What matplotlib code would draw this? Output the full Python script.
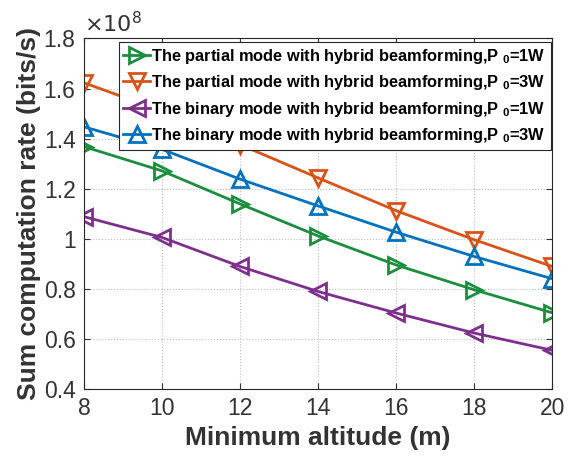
import matplotlib
matplotlib.use("Agg")
import matplotlib.pyplot as plt
from matplotlib.ticker import FuncFormatter, MultipleLocator

plt.rcParams['font.family'] = ['Liberation Sans', 'DejaVu Sans']
plt.rcParams['mathtext.fontset'] = 'custom'
plt.rcParams['mathtext.rm'] = 'Liberation Sans:bold'
plt.rcParams['mathtext.bf'] = 'Liberation Sans:bold'

altitude = [8, 10, 12, 14, 16, 18, 20]
partial_1w = [1.368, 1.271, 1.139, 1.011, 0.895, 0.796, 0.704]
partial_3w = [1.623, 1.51, 1.376, 1.243, 1.112, 0.996, 0.889]
binary_1w = [1.088, 1.005, 0.889, 0.789, 0.703, 0.623, 0.554]
binary_3w = [1.447, 1.357, 1.238, 1.131, 1.026, 0.929, 0.840]
scale = 1e8

labels = [
    "The partial mode with hybrid beamforming,P $_0$=1W",
    "The partial mode with hybrid beamforming,P $_0$=3W",
    "The binary mode with hybrid beamforming,P $_0$=1W",
    "The binary mode with hybrid beamforming,P $_0$=3W",
]
colors = ['#1B8E3E', '#D95319', '#7E2F8E', '#0072BD']
markers = ['>', 'v', '<', '^']
series = [partial_1w, partial_3w, binary_1w, binary_3w]

fig = plt.figure(figsize=(5.71, 4.58), dpi=100)
ax = fig.add_axes([0.147, 0.151, 0.820, 0.765])

for vals, c, m, lab in zip(series, colors, markers, labels):
    ax.plot(altitude, [v * scale for v in vals], color=c, marker=m, lw=2.0,
            markersize=12, markerfacecolor='none', markeredgewidth=2.0, label=lab)

ax.set_xlim(8, 20)
ax.set_ylim(0.4e8, 1.8e8)
ax.xaxis.set_major_locator(MultipleLocator(2))
ax.yaxis.set_major_locator(MultipleLocator(0.2e8))
ax.yaxis.set_major_formatter(FuncFormatter(lambda v, p: '%g' % round(v / scale, 2)))
ax.grid(True, linestyle=':', color='#c0c0c0', lw=0.8)
ax.tick_params(direction='in', top=True, right=True, labelsize=16.5, colors='#333333',
               length=4, width=0.8, pad=6)
for s in ax.spines.values():
    s.set_color('#262626')
    s.set_linewidth(0.8)

ax.set_xlabel('Minimum altitude (m)', fontsize=19, fontweight='bold', color='#333333', labelpad=4)
ax.set_ylabel('Sum computation rate (bits/s)', fontsize=19, fontweight='bold', color='#333333', labelpad=2)
ax.text(0.0, 1.005, r'$\times10^{8}$', transform=ax.transAxes, fontsize=16,
        color='#333333', ha='left', va='bottom',
        math_fontfamily='dejavusans')

leg = ax.legend(loc='upper right', bbox_to_anchor=(1.0, 0.995),
                prop={'weight': 'bold', 'size': 11.8}, handlelength=1.6,
                handletextpad=0.1, borderpad=0.3, labelspacing=0.45,
                fancybox=False, framealpha=1, edgecolor='#262626', borderaxespad=0.1)
leg.get_frame().set_linewidth(0.8)

fig.savefig('out.png', dpi=100)
